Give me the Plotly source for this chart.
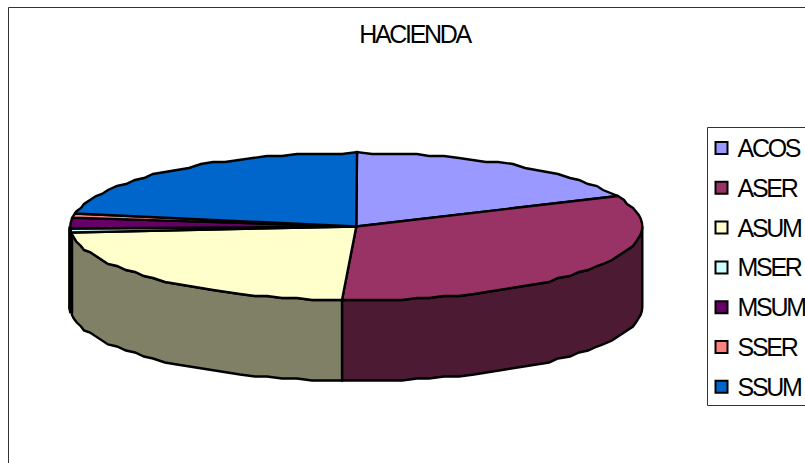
import math
import plotly.graph_objects as go

categories = ["ACOS", "ASER", "ASUM", "MSER", "MSUM", "SSER", "SSUM"]
values = [18.2, 32.6, 22.9, 0.86, 2.36, 0.92, 22.16]
top_colors = ["#9999FF", "#993366", "#FFFFCC", "#CCFFFF", "#660066", "#FF8080", "#0066CC"]
side_colors = ["#4D4D80", "#4D1A33", "#808066", "#668080", "#330033", "#804040", "#003366"]
title_text = "HACIENDA"

W, H = 805, 463
CX, CY, RX, RY, DEPTH = 356.3, 226.5, 286, 73.5, 80.5
STEP = 3.0
SNAP_X, SNAP_Y = 3.0, 2.0
FONT_SIZE = 25
SPACING = 2.3
EDGE = 2.4


def pt(theta, dy=0.0):
    r = math.radians(theta)
    x = CX + RX * math.sin(r)
    y = CY - RY * math.cos(r)
    # the outline of the reference is slightly wavy; keep the extremes exact
    if abs(math.sin(r)) < 0.97:
        x = round(x / SNAP_X) * SNAP_X
        y = round(y / SNAP_Y) * SNAP_Y
    return x, y + dy


def arc(a, b):
    # a shared angle grid, so neighbouring faces follow the same outline
    k0 = math.floor(a / STEP) + 1
    k1 = math.ceil(b / STEP) - 1
    return [a] + [k * STEP for k in range(k0, k1 + 1)] + [b]


fig = go.Figure()
total = sum(values)
bounds = []
acc = 0.0
for v in values:
    bounds.append((acc, acc + v / total * 360))
    acc += v / total * 360

for (a, b), col in zip(bounds, side_colors):
    lo, hi = max(a, 90), min(b, 270)
    if hi <= lo:
        continue
    angs = arc(lo, hi)
    upper = [pt(t) for t in angs]
    lower = [pt(t, DEPTH) for t in reversed(angs)]
    poly = upper + lower + upper[:1]
    fig.add_trace(go.Scatter(x=[p[0] for p in poly], y=[p[1] for p in poly], mode="lines",
                             fill="toself", fillcolor=col,
                             line=dict(color="black", width=4 if hi - lo < 5 else EDGE),
                             hoverinfo="skip", showlegend=False))

for (a, b), col, name in zip(bounds, top_colors, categories):
    poly = [(CX, CY)] + [pt(t) for t in arc(a, b)] + [(CX, CY)]
    fig.add_trace(go.Scatter(x=[p[0] for p in poly], y=[p[1] for p in poly], mode="lines",
                             fill="toself", fillcolor=col, line=dict(color="black", width=EDGE),
                             name=name, hoverinfo="name", showlegend=False))

LEG_Y0, LEG_DY = 148.0, 39.8
ky = [LEG_Y0 + i * LEG_DY for i in range(len(categories))]
fig.add_trace(go.Scatter(x=[721.5] * len(categories), y=ky, mode="markers",
                         marker=dict(symbol="square", size=12, color=top_colors,
                                     line=dict(color="black", width=2)),
                         hoverinfo="skip", showlegend=False))
annotations = [dict(x=737 - 1.5 - SPACING * len(c) / 2, y=y, xref="x", yref="y", text=c,
                    showarrow=False, xanchor="left", yanchor="middle",
                    font=dict(family="Liberation Sans", size=FONT_SIZE, color="black"))
               for c, y in zip(categories, ky)]
annotations.append(dict(x=415, y=34, xref="x", yref="y", text=title_text, showarrow=False,
                        xanchor="center", yanchor="middle",
                        font=dict(family="Liberation Sans", size=FONT_SIZE, color="black")))

frame = dict(type="rect", xref="x", yref="y", x0=8.5, y0=7.5, x1=830, y1=490,
             line=dict(color="#333333", width=1), fillcolor="white", layer="below")
legend_box = dict(type="rect", xref="x", yref="y", x0=707.5, y0=127.5, x1=830, y1=405.5,
                  line=dict(color="#333333", width=1), fillcolor="white", layer="below")

fig.update_layout(
    width=W, height=H, autosize=False,
    margin=dict(l=0, r=0, t=0, b=0),
    paper_bgcolor="white", plot_bgcolor="white",
    xaxis=dict(range=[0, W], visible=False, fixedrange=True),
    yaxis=dict(range=[H, 0], visible=False, fixedrange=True),
    shapes=[frame, legend_box], annotations=annotations, showlegend=False,
)

post = """
document.querySelectorAll('.annotation-text').forEach(function(t){
  t.style.letterSpacing='-%spx';
});
document.body.style.margin='0';
""" % SPACING
fig.write_html("out.html", post_script=post, config=dict(displayModeBar=False))
